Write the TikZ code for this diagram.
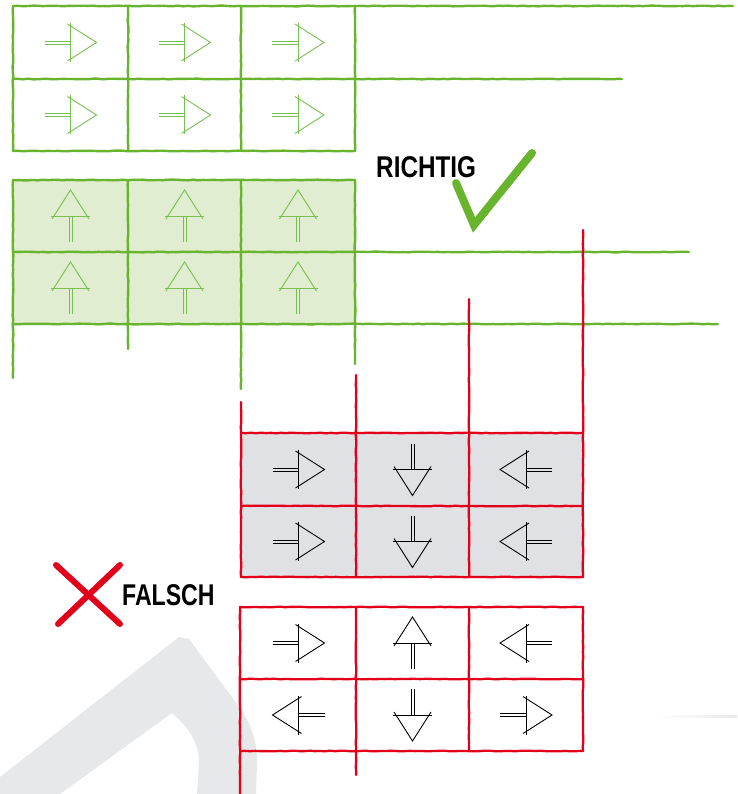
\documentclass[tikz,border=0pt]{standalone}
\usepackage{fontspec}
\setmainfont{Liberation Sans}
\usetikzlibrary{decorations.pathmorphing}
\definecolor{lgreen}{RGB}{104,180,45}
\definecolor{agreen}{RGB}{120,190,80}
\definecolor{gfill}{RGB}{224,237,209}
\definecolor{lred}{RGB}{226,0,26}
\definecolor{cfill}{RGB}{223,225,228}
\definecolor{wm}{RGB}{230,232,234}
\begin{document}
\begin{tikzpicture}[x=1pt,y=-1pt,
  sketch/.style={decorate, decoration={random steps, segment length=5pt, amplitude=0.35pt}},
  gline/.style={draw=lgreen, line width=2.4pt, line cap=round, sketch},
  rline/.style={draw=lred, line width=2.3pt, line cap=round, sketch},
  gglyph/.style={color=agreen, line width=0.9pt},
  kglyph/.style={color=black, line width=0.9pt},
  label/.style={inner sep=0pt, anchor=base west, font=\bfseries\fontsize{30}{36}\selectfont},
  arrowglyph/.pic={
    \draw[line width=0.65pt] (-26,-1.6) -- (0,-1.6) (-26,1.6) -- (0,1.6);
    \draw (0,-19.5) -- (0,19.5);
    \draw (-3,-18.5) -- (26,0) -- (-3,18.5);
  }
]
\pgfmathsetseed{7}
\useasboundingbox (0,0) rectangle (737,794);

% watermark
\fill[wm] (0,777) -- (179,637) -- (189,639) -- (240,708)
  .. controls (252,725) and (258,745) .. (257,765) -- (256,794) -- (197,794)
  -- (199,762) .. controls (199,745) and (190,728) .. (172,713) -- (60,794) -- (0,794) -- cycle;
\shade[left color=white, right color=wm] (655,715) rectangle (737,717.5);

% fills
\fill[gfill] (13,180) rectangle (355,324);
\fill[cfill] (241,433) rectangle (583,577);

% green grid 1
\draw[gline] (13,6) -- (733,6);
\draw[gline] (13,79) -- (622,79);
\draw[gline] (13,151) -- (355,151);
\foreach \x in {13,128,241,355} \draw[gline] (\x,6) -- (\x,151);

% green grid 2
\draw[gline] (13,180) -- (355,180);
\draw[gline] (13,252) -- (689,252);
\draw[gline] (13,324) -- (718,324);
\draw[gline] (13,180) -- (13,378);
\draw[gline] (128,180) -- (128,349);
\draw[gline] (241,180) -- (241,389);
\draw[gline] (355,180) -- (355,364);

% red grid 1
\foreach \y in {433,506,577} \draw[rline] (241,\y) -- (583,\y);
\draw[rline] (241,402) -- (241,577);
\draw[rline] (356,375) -- (356,577);
\draw[rline] (469,299) -- (469,577);
\draw[rline] (583,230) -- (583,577);

% red grid 2
\foreach \y in {607,679,751} \draw[rline] (240,\y) -- (583,\y);
\draw[rline] (240,607) -- (240,794);
\draw[rline] (356,607) -- (356,775);
\draw[rline] (469,607) -- (469,751);
\draw[rline] (583,607) -- (583,751);

% green arrows
\foreach \x/\n in {70.5/a,184.5/b,298/c}{
  \pic[gglyph] (g1\n) at (\x,42.5) {arrowglyph};
  \pic[gglyph] (g2\n) at (\x,115) {arrowglyph};
  \pic[gglyph, rotate=90] (g3\n) at (\x,216) {arrowglyph};
  \pic[gglyph, rotate=90] (g4\n) at (\x,288) {arrowglyph};
}

% gray grid arrows
\foreach \y/\n in {469.5/a,541.5/b}{
  \pic[kglyph] (r1\n) at (298.5,\y) {arrowglyph};
  \pic[kglyph, rotate=-90] (r2\n) at (412.5,\y) {arrowglyph};
  \pic[kglyph, rotate=180] (r3\n) at (526,\y) {arrowglyph};
}

% lower grid arrows
\pic[kglyph] (w1) at (298.5,643) {arrowglyph};
\pic[kglyph, rotate=90] (w2) at (412.5,643) {arrowglyph};
\pic[kglyph, rotate=180] (w3) at (526,643) {arrowglyph};
\pic[kglyph, rotate=180] (w4) at (298.5,715) {arrowglyph};
\pic[kglyph, rotate=-90] (w5) at (412.5,715) {arrowglyph};
\pic[kglyph] (w6) at (526,715) {arrowglyph};

% labels and marks
\node[label] (richtig) at (376,178) {\scalebox{0.81}[1]{RICHTIG}};
\draw[lgreen, line width=8pt, line cap=round, line join=miter] (456,183) -- (474,225) -- (532,153);

\node[label] (falsch) at (122,605) {\scalebox{0.77}[1]{FALSCH}};
\draw[lred, line width=6pt, line cap=round] (56,565) -- (120,624);
\draw[lred, line width=6pt, line cap=round] (120,565) -- (58,624);
\end{tikzpicture}
\end{document}
